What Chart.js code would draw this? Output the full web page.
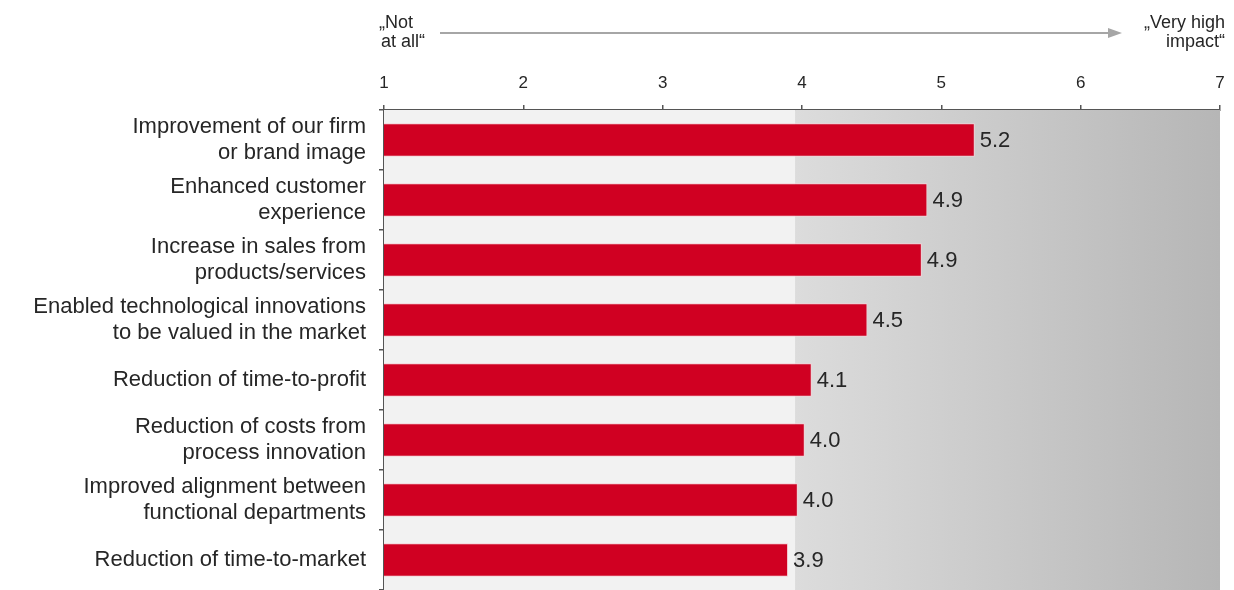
<!DOCTYPE html>
<html>
<head>
<meta charset="utf-8">
<title>Impact ratings</title>
<script src="https://cdn.jsdelivr.net/npm/chart.js@4.4.1/dist/chart.umd.min.js"></script>
<style>
  html, body { margin: 0; padding: 0; background: #fff; }
  canvas { display: block; }
</style>
</head>
<body>
<canvas id="impact-chart" width="1234" height="590"></canvas>
<script>
/* ---- DATA ---- */
const categories = [
  ['Improvement of our firm', 'or brand image'],
  ['Enhanced customer', 'experience'],
  ['Increase in sales from', 'products/services'],
  ['Enabled technological innovations', 'to be valued in the market'],
  'Reduction of time-to-profit',
  ['Reduction of costs from', 'process innovation'],
  ['Improved alignment between', 'functional departments'],
  'Reduction of time-to-market'
];
const scores      = [5.24, 4.90, 4.86, 4.47, 4.07, 4.02, 3.97, 3.90];
const scoreLabels = ['5.2', '4.9', '4.9', '4.5', '4.1', '4.0', '4.0', '3.9'];
const scaleTicks  = [1, 2, 3, 4, 5, 6, 7];
const scaleEnds   = [['\u201ENot', 'at all\u201C'], ['\u201EVery high', 'impact\u201C']];
const shadeFrom   = 3.95;   // where the grey gradient zone begins

const FONT = "'Liberation Sans', Arial, sans-serif";
const INK  = '#262626';

/* ---- PLUGINS ---- */
// background: flat light grey, then gradient to the right edge
const zoneBackground = {
  id: 'zoneBackground',
  beforeDatasetsDraw(chart) {
    const { ctx, chartArea: a, scales: { x } } = chart;
    const sx = x.getPixelForValue(shadeFrom);
    ctx.save();
    ctx.fillStyle = '#f2f2f2';
    ctx.fillRect(a.left, a.top, sx - a.left, a.bottom - a.top);
    const g = ctx.createLinearGradient(sx, 0, a.right, 0);
    g.addColorStop(0, '#dcdcdc');
    g.addColorStop(1, '#b6b6b6');
    ctx.fillStyle = g;
    ctx.fillRect(sx, a.top, a.right - sx, a.bottom - a.top);
    ctx.restore();
  }
};

// value labels at the end of each bar
const valueLabels = {
  id: 'valueLabels',
  afterDatasetsDraw(chart) {
    const { ctx } = chart;
    const meta = chart.getDatasetMeta(0);
    ctx.save();
    ctx.font = `22px ${FONT}`;
    ctx.fillStyle = INK;
    ctx.textAlign = 'left';
    ctx.textBaseline = 'middle';
    meta.data.forEach((bar, i) => {
      ctx.fillText(scoreLabels[i], bar.x + 5, bar.y + 1);
    });
    ctx.restore();
  }
};

// "Not at all" ---> "Very high impact" header above the scale
const scaleHeader = {
  id: 'scaleHeader',
  afterDraw(chart) {
    const { ctx, scales: { x } } = chart;
    const left = x.getPixelForValue(1);
    const right = x.getPixelForValue(7);
    ctx.save();
    ctx.font = `18px ${FONT}`;
    ctx.fillStyle = INK;
    ctx.textBaseline = 'alphabetic';
    ctx.textAlign = 'left';
    ctx.fillText(scaleEnds[0][0], left - 5, 28);
    ctx.fillText(scaleEnds[0][1], left - 3, 47);
    ctx.textAlign = 'right';
    ctx.fillText(scaleEnds[1][0], right + 5, 28);
    ctx.fillText(scaleEnds[1][1], right + 5, 47);

    // arrow
    const y = 33;
    ctx.strokeStyle = '#a6a6a6';
    ctx.fillStyle = '#a6a6a6';
    ctx.lineWidth = 2;
    ctx.beginPath();
    ctx.moveTo(left + 56, y);
    ctx.lineTo(right - 110, y);
    ctx.stroke();
    ctx.beginPath();
    ctx.moveTo(right - 112, y - 5);
    ctx.lineTo(right - 98, y);
    ctx.lineTo(right - 112, y + 5);
    ctx.closePath();
    ctx.fill();
    ctx.restore();
  }
};

/* ---- CHART ---- */
new Chart(document.getElementById('impact-chart'), {
  type: 'bar',
  data: {
    labels: categories,
    datasets: [{
      data: scores,
      backgroundColor: '#d00022',
      borderColor: '#f7d0d6',
      borderWidth: 1,
      borderSkipped: false,
      categoryPercentage: 1,
      barPercentage: 0.56
    }]
  },
  options: {
    indexAxis: 'y',
    responsive: false,
    animation: false,
    layout: { padding: { top: 0, right: 14, bottom: 0, left: 0 } },
    plugins: {
      legend: { display: false },
      tooltip: { enabled: false }
    },
    scales: {
      x: {
        position: 'top',
        min: 1,
        max: 7,
        afterFit: s => { s.height = 110; s.paddingLeft = 0; s.paddingRight = 0; },
        afterBuildTicks: s => { s.ticks = scaleTicks.map(v => ({ value: v })); },
        grid: { drawOnChartArea: false, drawTicks: true, tickLength: 5, color: '#555', lineWidth: 1.5 },
        border: { display: true, color: '#555', width: 2 },
        ticks: {
          color: INK,
          font: { family: FONT, size: 17 },
          padding: 11,
          maxRotation: 0
        }
      },
      y: {
        afterFit: s => { s.width = 384; s.paddingTop = 0; s.paddingBottom = 0; },
        grid: { drawOnChartArea: false, offset: true, tickLength: 5, color: '#555', lineWidth: 1.5 },
        border: { display: true, color: '#555', width: 2 },
        ticks: {
          color: INK,
          font: { family: FONT, size: 22, lineHeight: 1.15 },
          padding: 13,
          autoSkip: false
        }
      }
    }
  },
  plugins: [zoneBackground, valueLabels, scaleHeader]
});
</script>
</body>
</html>
